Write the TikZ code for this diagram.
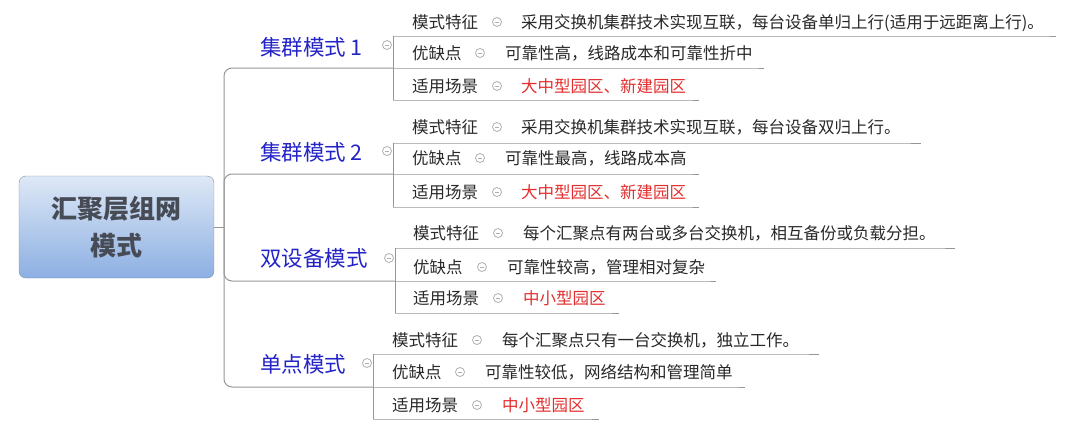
\documentclass[tikz,border=0pt]{standalone}
\usepackage{fontspec}
\setmainfont{Noto Sans CJK SC}
\definecolor{modeblue}{RGB}{35, 35, 200}
\definecolor{itemgray}{RGB}{40, 40, 40}
\definecolor{scenered}{RGB}{228, 45, 45}
\definecolor{linegray}{RGB}{150, 150, 150}
\definecolor{foldgray}{RGB}{175, 175, 175}
\definecolor{roottop}{RGB}{222, 232, 246}
\definecolor{rootbottom}{RGB}{140, 175, 226}
\definecolor{rootedge}{RGB}{125, 145, 175}
\definecolor{roottext}{RGB}{70, 75, 85}

\tikzset{
    rootbox/.style={draw=rootedge, rounded corners=7pt, top color=roottop, bottom color=rootbottom,
        minimum width=195pt, minimum height=102pt, align=center, text=roottext,
        font=\fontsize{26}{37}\selectfont\bfseries},
    modelabel/.style={anchor=west, inner sep=0pt, text=modeblue, font=\fontsize{21.5}{24}\selectfont,
        text height=18.9pt, text depth=2.6pt},
    itemkey/.style={anchor=west, inner sep=0pt, text=itemgray, font=\fontsize{16.5}{18}\selectfont,
        text height=14.5pt, text depth=2pt},
    itemdesc/.style={itemkey},
    itemscene/.style={itemkey, text=scenered},
    foldmark/.style={circle, draw=foldgray, line width=0.8pt, minimum size=9pt, inner sep=0pt,
        path picture={\draw[foldgray, line width=0.8pt] ([xshift=-2.2pt]path picture bounding box.center)
        -- ([xshift=2.2pt]path picture bounding box.center);}},
    modebranch/.style={draw=linegray, line width=1pt, rounded corners=8pt},
    rowline/.style={draw=linegray, line width=1pt},
}

\begin{document}
\begin{tikzpicture}[x=1pt, y=-1pt]
    \useasboundingbox (0,0) rectangle (1080,431);

    % Root node on left
    \node[rootbox] (root) at (116.5,227) {汇聚层组网\\模式};
    \coordinate (trunk) at (224,227);
    \draw[rowline] (root.east) -- (trunk);

    % Mode 1 - cluster, single uplink
    \node[modelabel] (g1) at (260,47) {集群模式 1};
    \node[foldmark] (f1) at (387,45) {};
    \coordinate (j1) at (393,68);
    \draw[modebranch] (trunk) |- (j1);
    \node[itemkey] (k1a) at (412,22) {模式特征}; \node[foldmark] (f1a) at (497,22) {};
    \node[itemdesc] (d1a) at (521,22) {采用交换机集群技术实现互联，每台设备单归上行(适用于远距离上行)。};
    \node[itemkey] (k1b) at (412,53) {优缺点}; \node[foldmark] (f1b) at (480,53) {};
    \node[itemdesc] (d1b) at (505,53) {可靠性高，线路成本和可靠性折中};
    \node[itemkey] (k1c) at (412,86) {适用场景}; \node[foldmark] (f1c) at (497,86) {};
    \node[itemscene] (d1c) at (521,86) {大中型园区、新建园区};
    \draw[rowline] (393,36) -- (393,100);
    \draw[rowline] (393,36) -- (d1a.east |- 0,36) -- ++(12,0);
    \draw[rowline] (j1) -- (d1b.east |- j1) -- ++(11,0);
    \draw[rowline] (393,100) -- (d1c.east |- 0,100) -- ++(13,0);

    % Mode 2 - cluster, dual uplink
    \node[modelabel] (g2) at (260,152) {集群模式 2};
    \node[foldmark] (f2) at (387,151) {};
    \coordinate (j2) at (393,174);
    \draw[modebranch] (trunk) |- (j2);
    \node[itemkey] (k2a) at (412,127) {模式特征}; \node[foldmark] (f2a) at (497,127) {};
    \node[itemdesc] (d2a) at (521,127) {采用交换机集群技术实现互联，每台设备双归上行。};
    \node[itemkey] (k2b) at (412,158) {优缺点}; \node[foldmark] (f2b) at (480,158) {};
    \node[itemdesc] (d2b) at (505,158) {可靠性最高，线路成本高};
    \node[itemkey] (k2c) at (412,192) {适用场景}; \node[foldmark] (f2c) at (497,192) {};
    \node[itemscene] (d2c) at (521,192) {大中型园区、新建园区};
    \draw[rowline] (393,143) -- (393,207);
    \draw[rowline] (393,143) -- (d2a.east |- 0,143) -- ++(20,0);
    \draw[rowline] (j2) -- (d2b.east |- j2) -- ++(12,0);
    \draw[rowline] (393,207) -- (d2c.east |- 0,207) -- ++(13,0);

    % Mode 3 - dual device
    \node[modelabel] (g3) at (260,258) {双设备模式};
    \node[foldmark] (f3) at (389,258) {};
    \coordinate (j3) at (395,281);
    \draw[modebranch] (trunk) |- (j3);
    \node[itemkey] (k3a) at (413,233) {模式特征}; \node[foldmark] (f3a) at (498,233) {};
    \node[itemdesc] (d3a) at (523,233) {每个汇聚点有两台或多台交换机，相互备份或负载分担。};
    \node[itemkey] (k3b) at (413,267) {优缺点}; \node[foldmark] (f3b) at (482,267) {};
    \node[itemdesc] (d3b) at (507,267) {可靠性较高，管理相对复杂};
    \node[itemkey] (k3c) at (413,298) {适用场景}; \node[foldmark] (f3c) at (498,298) {};
    \node[itemscene] (d3c) at (523,298) {中小型园区};
    \draw[rowline] (395,248) -- (395,313);
    \draw[rowline] (395,248) -- (d3a.east |- 0,248) -- ++(19,0);
    \draw[rowline] (j3) -- (d3b.east |- j3) -- ++(11,0);
    \draw[rowline] (395,313) -- (d3c.east |- 0,313) -- ++(13,0);

    % Mode 4 - single point
    \node[modelabel] (g4) at (260,364) {单点模式};
    \node[foldmark] (f4) at (367,363) {};
    \coordinate (j4) at (373,387);
    \draw[modebranch] (trunk) |- (j4);
    \node[itemkey] (k4a) at (392,340) {模式特征}; \node[foldmark] (f4a) at (477,340) {};
    \node[itemdesc] (d4a) at (502,340) {每个汇聚点只有一台交换机，独立工作。};
    \node[itemkey] (k4b) at (392,372) {优缺点}; \node[foldmark] (f4b) at (460,372) {};
    \node[itemdesc] (d4b) at (485,372) {可靠性较低，网络结构和管理简单};
    \node[itemkey] (k4c) at (392,405) {适用场景}; \node[foldmark] (f4c) at (477,405) {};
    \node[itemscene] (d4c) at (502,405) {中小型园区};
    \draw[rowline] (373,354) -- (373,419);
    \draw[rowline] (373,354) -- (d4a.east |- 0,354) -- ++(20,0);
    \draw[rowline] (j4) -- (d4b.east |- j4) -- ++(12,0);
    \draw[rowline] (373,419) -- (d4c.east |- 0,419) -- ++(14,0);
\end{tikzpicture}
\end{document}
